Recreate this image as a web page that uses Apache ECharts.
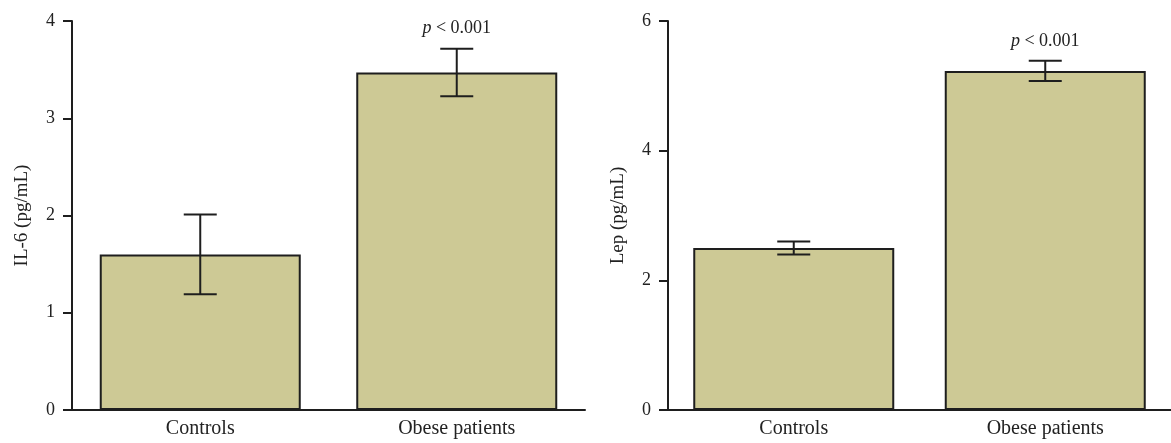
<!DOCTYPE html>
<html>
<head>
<meta charset="utf-8">
<script src="https://cdn.jsdelivr.net/npm/echarts@6/dist/echarts.min.js"></script>
<style>
html,body{margin:0;padding:0;background:#fff;}
#chart{width:1171px;height:443px;}
</style>
</head>
<body>
<div id="chart"></div>
<script>
// ---- data ----
var categories = ['Controls', 'Obese patients'];
var il6Mean = [1.60, 3.47];
var il6Err = [0.41, 0.245];
var lepMean = [2.50, 5.23];
var lepErr = [0.10, 0.155];
var pLabels = ['', 'p < 0.001'];
var il6Ticks = [0, 1, 2, 3, 4];
var lepTicks = [0, 2, 4, 6];

var FONT = 'Liberation Serif';
var BAR_FILL = '#cdc995';
var DARK = '#1e1e1e';

function errorSeries(gridIdx, means, errs) {
  return {
    type: 'custom',
    xAxisIndex: gridIdx, yAxisIndex: gridIdx,
    z: 5,
    data: means.map(function (m, i) { return [i, m, errs[i]]; }),
    renderItem: function (params, api) {
      var i = api.value(0), m = api.value(1), e = api.value(2);
      var top = api.coord([i, m + e]);
      var bot = api.coord([i, m - e]);
      var hw = 16.5;
      var style = { stroke: DARK, lineWidth: 2 };
      var children = [
        { type: 'line', shape: { x1: top[0], y1: top[1], x2: bot[0], y2: bot[1] }, style: style },
        { type: 'line', shape: { x1: top[0] - hw, y1: top[1], x2: top[0] + hw, y2: top[1] }, style: style },
        { type: 'line', shape: { x1: bot[0] - hw, y1: bot[1], x2: bot[0] + hw, y2: bot[1] }, style: style }
      ];
      if (pLabels[i]) {
        children.push({
          type: 'text',
          x: top[0], y: top[1] - 20,
          style: {
            text: '{i|p} < 0.001',
            rich: { i: { fontStyle: 'italic', fontFamily: FONT, fontSize: 18, fill: '#222' } },
            fontFamily: FONT, fontSize: 18, fill: '#222',
            align: 'center', verticalAlign: 'middle'
          }
        });
      }
      return { type: 'group', children: children };
    }
  };
}

function xAxis(gridIdx) {
  return {
    type: 'category', gridIndex: gridIdx, data: categories,
    axisLine: { lineStyle: { color: DARK, width: 2 } },
    axisTick: { show: false },
    axisLabel: { color: '#222', fontFamily: FONT, fontSize: 20, margin: 9 }
  };
}
function yAxis(gridIdx, name, max, interval) {
  return {
    type: 'value', gridIndex: gridIdx, min: 0, max: max, interval: interval,
    name: name, nameLocation: 'middle', nameGap: 40, nameRotate: 90,
    nameTextStyle: { color: '#222', fontFamily: FONT, fontSize: 19 },
    axisLine: { show: true, lineStyle: { color: DARK, width: 2 } },
    axisTick: { show: true, length: 9, lineStyle: { color: DARK, width: 2 } },
    axisLabel: { color: '#222', fontFamily: FONT, fontSize: 18, margin: 17 },
    splitLine: { show: false }
  };
}

var chart = echarts.init(document.getElementById('chart'), null, { renderer: 'canvas' });
chart.setOption({
  animation: false,
  backgroundColor: '#fff',
  grid: [
    { left: 72, top: 21, width: 513, height: 389 },
    { left: 668, top: 21, width: 503, height: 389 }
  ],
  xAxis: [xAxis(0), xAxis(1)],
  yAxis: [yAxis(0, 'IL-6 (pg/mL)', il6Ticks[il6Ticks.length - 1], il6Ticks[1] - il6Ticks[0]),
          yAxis(1, 'Lep (pg/mL)', lepTicks[lepTicks.length - 1], lepTicks[1] - lepTicks[0])],
  series: [
    { type: 'bar', xAxisIndex: 0, yAxisIndex: 0, data: il6Mean, barWidth: 201,
      itemStyle: { color: BAR_FILL, borderColor: DARK, borderWidth: 2 } },
    errorSeries(0, il6Mean, il6Err),
    { type: 'bar', xAxisIndex: 1, yAxisIndex: 1, data: lepMean, barWidth: 201,
      itemStyle: { color: BAR_FILL, borderColor: DARK, borderWidth: 2 } },
    errorSeries(1, lepMean, lepErr)
  ]
});
</script>
</body>
</html>
